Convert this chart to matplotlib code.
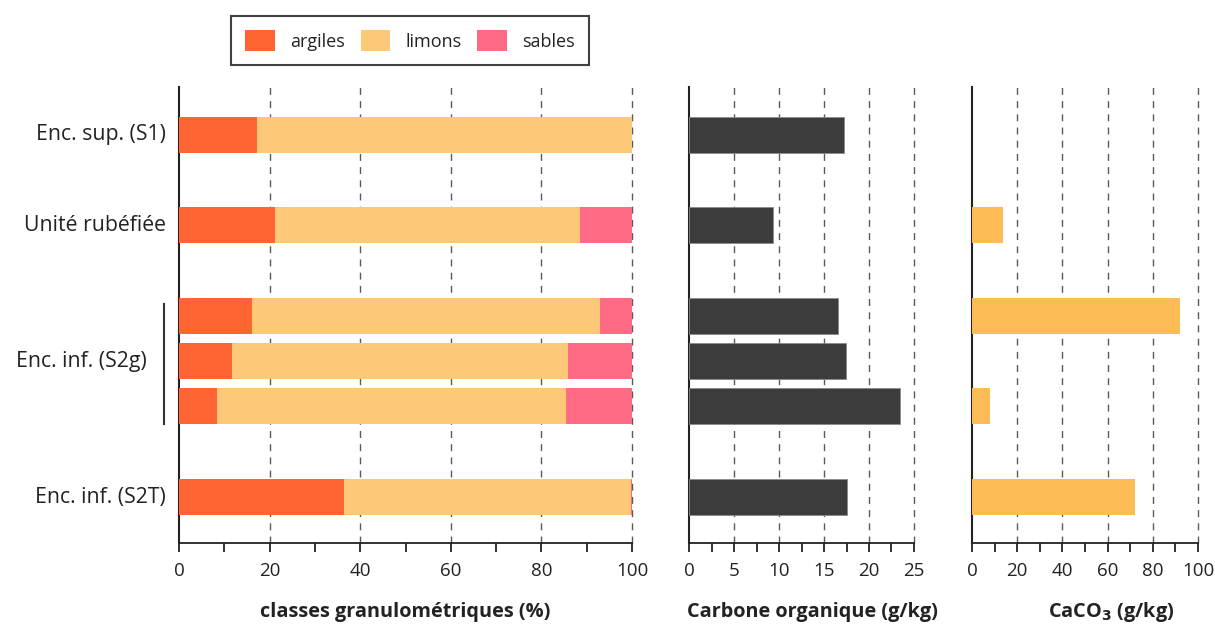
import matplotlib
matplotlib.use("Agg")
import matplotlib.pyplot as plt
from matplotlib.patches import Patch
import matplotlib.transforms as mtransforms

plt.rcParams['font.family'] = ['Open Sans', 'DejaVu Sans']

# ---- data ----
row_labels = ["Enc. sup. (S1)", "Unité rubéfiée", "", "Enc. inf. (S2g)", "", "Enc. inf. (S2T)"]
row_pos = [8, 6, 4, 3, 2, 0]
argiles = [17.3, 21.1, 16.2, 11.8, 8.4, 36.4]
limons = [82.7, 67.5, 76.7, 74.1, 77.0, 63.3]
sables = [0.0, 11.4, 7.1, 14.1, 14.6, 0.3]
carbone = [17.2, 9.3, 16.6, 17.4, 23.5, 17.6]
caco3 = [0.0, 13.7, 92.0, 0.0, 8.0, 72.0]

c_arg = "#FF6433"
c_lim = "#FDC878"
c_sab = "#FF6A85"
c_car = "#3C3C3C"
c_cac = "#FDBB55"

W, H = 1215, 628
fig = plt.figure(figsize=(W / 100, H / 100), dpi=100)

bottom = 1 - 543 / H
height = (543 - 87) / H
ax1 = fig.add_axes([179 / W, bottom, (632 - 179) / W, height])
ax2 = fig.add_axes([689 / W, bottom, (914 - 689) / W, height])
ax3 = fig.add_axes([972 / W, bottom, (1198 - 972) / W, height])

bh = 0.795
ax1.barh(row_pos, argiles, height=bh, color=c_arg, zorder=3)
left2 = [a for a in argiles]
ax1.barh(row_pos, limons, left=left2, height=bh, color=c_lim, zorder=3)
left3 = [a + l for a, l in zip(argiles, limons)]
ax1.barh(row_pos, sables, left=left3, height=bh, color=c_sab, zorder=3)

ax2.barh(row_pos, carbone, height=bh, color=c_car, edgecolor="#8a8a8a", linewidth=0.6, zorder=3)
ax3.barh(row_pos, caco3, height=bh, color=c_cac, zorder=3)

setups = [
    (ax1, (0, 100), [0, 20, 40, 60, 80, 100], [10, 30, 50, 70, 90], [20, 40, 60, 80, 100]),
    (ax2, (0, 25), [0, 5, 10, 15, 20, 25], [2.5, 7.5, 12.5, 17.5, 22.5], [5, 10, 15, 20, 25]),
    (ax3, (0, 100), [0, 20, 40, 60, 80, 100], [10, 30, 50, 70, 90], [20, 40, 60, 80, 100]),
]
for ax, xl, major, minor, grid in setups:
    ax.set_xlim(*xl)
    ax.set_ylim(-1.015, 9.05)
    ax.set_xticks(major)
    ax.set_xticks(minor, minor=True)
    ax.set_xticklabels([str(m) for m in major])
    ax.set_yticks([])
    for g in grid:
        ax.axvline(g, color="#5a5a5a", lw=1.0, ls=(0, (5, 4.5)), zorder=1, clip_on=False)
    for s in ["top", "right"]:
        ax.spines[s].set_visible(False)
    ax.spines["left"].set_color("#222222")
    ax.spines["left"].set_linewidth(1.5)
    ax.spines["bottom"].set_color("#222222")
    ax.spines["bottom"].set_linewidth(1.3)
    ax.tick_params(axis="x", which="both", direction="out", length=6.5, width=1.3,
                   color="#222222", labelsize=13.5, pad=7, labelcolor="#222222")

# row labels
trans = mtransforms.blended_transform_factory(ax1.transAxes, ax1.transData)
for lab, y in zip(row_labels, row_pos):
    if not lab:
        continue
    if "S2g" in lab:
        x = (147 - 179) / 453
    else:
        x = (166 - 179) / 453
    ax1.text(x, y, lab, transform=trans, ha="right", va="center", fontsize=15.3, color="#222222")

# bracket for S2g group
bx = (164 - 179) / 453
ax1.plot([bx, bx], [4.27, 1.62], transform=trans, color="#333333", lw=1.5, clip_on=False)

# axis titles
fig.text(405 / W, 1 - 612 / H, "classes granulométriques (%)", ha="center", va="center",
         fontsize=14.3, fontweight="bold", color="#222222")
fig.text(812 / W, 1 - 612 / H, "Carbone organique (g/kg)", ha="center", va="center",
         fontsize=14.3, fontweight="bold", color="#222222")
fig.text(1111 / W, 1 - 612 / H, "CaCO$_\\mathbf{3}$ (g/kg)", ha="center", va="center",
         fontsize=14.3, fontweight="bold", color="#222222")

# legend
handles = [Patch(facecolor=c_arg, label="argiles"),
           Patch(facecolor=c_lim, label="limons"),
           Patch(facecolor=c_sab, label="sables")]
leg = fig.legend(handles=handles, ncol=3, loc="center", bbox_to_anchor=(410 / W, 1 - 40.5 / H),
                 frameon=True, fancybox=False, edgecolor="#111111", fontsize=13,
                 handlelength=1.66, handleheight=1.33, handletextpad=0.83, columnspacing=0.85,
                 borderpad=0.8, borderaxespad=0)
leg.get_frame().set_linewidth(1.5)
for t in leg.get_texts():
    t.set_color("#222222")

fig.savefig("out.png", dpi=100)
